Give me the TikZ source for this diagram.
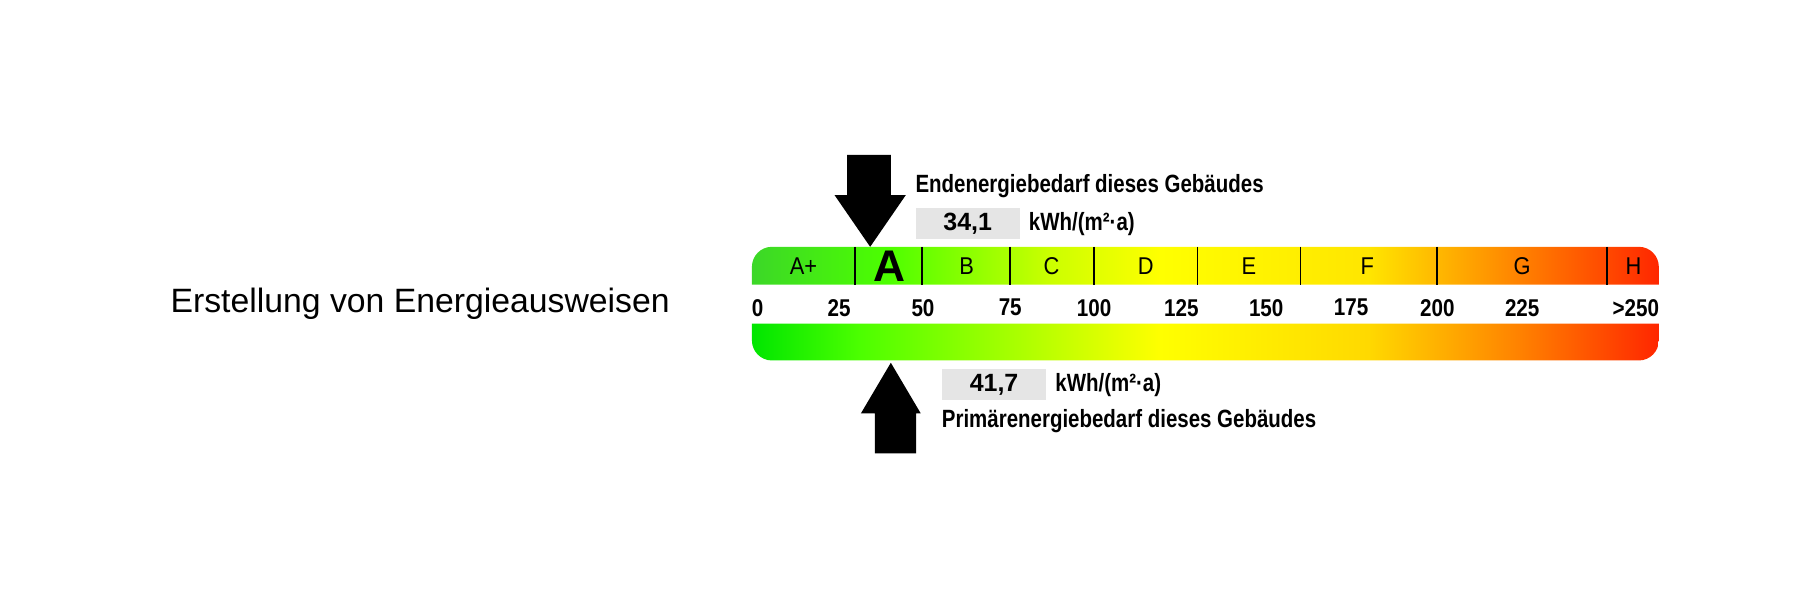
\documentclass[tikz,border=0pt]{standalone}
\usepackage{fontspec}
\setmainfont{Liberation Sans}
\usetikzlibrary{positioning}
\definecolor{topgreen}{RGB}{60,215,40}
% stops placed in 25bp..75bp, the part that covers the path
\pgfdeclarehorizontalshading{topscale}{100bp}{
  color(0bp)=(topgreen); color(25bp)=(topgreen); color(32.5bp)=(green!70!yellow);
  color(41.5bp)=(yellow!80!green); color(47.5bp)=(yellow); color(59bp)=(yellow!80!orange);
  color(67.5bp)=(orange); color(75bp)=(red!85!yellow); color(100bp)=(red!85!yellow)}
\pgfdeclarehorizontalshading{botscale}{100bp}{
  color(0bp)=(green!90!black); color(25bp)=(green!90!black); color(31bp)=(green!70!yellow);
  color(47.5bp)=(yellow); color(59bp)=(yellow!70!orange); color(67.5bp)=(orange);
  color(75bp)=(red!85!yellow); color(100bp)=(red!85!yellow)}
\tikzset{
  lbl/.style={font=\bfseries\fontsize{7.1}{8}\selectfont, inner sep=0pt, xscale=0.82, transform shape},
  cls/.style={font=\fontsize{6.9}{8}\selectfont, inner sep=0pt, xscale=0.9, transform shape},
  num/.style={font=\bfseries\fontsize{6.9}{8}\selectfont, inner sep=0pt, xscale=0.85, transform shape},
  valbox/.style={fill=black!10, minimum width=1.04cm, minimum height=0.31cm, font=\bfseries\fontsize{7.1}{8}\selectfont, inner sep=0pt},
}
\begin{document}
\begin{tikzpicture}[x=0.01148cm, y=-0.01148cm]
    % title
    \node[anchor=west, font=\fontsize{9.6}{11}\selectfont, inner sep=0pt] (title) at (148,265) {Erstellung von Energieausweisen};
    % bars
    \shade[shading=topscale] (655,248) [rounded corners=0.2cm] -- (655,215) -- (1445,215) [sharp corners] -- (1445,248) -- cycle;
    \shade[shading=botscale] (655,282) [rounded corners=0.2cm] -- (655,314) -- (1445,314) [sharp corners] -- (1445,282) -- cycle;
    \foreach \x in {745,803,880,953,1043,1133,1252,1400}
        \draw[line width=0.45pt] (\x,215) -- (\x,248);
    % classes
    \foreach \x/\c in {700/A+,842/B,916/C,998/D,1088/E,1191/F,1326/G,1423/H}
        \node[cls] (cls\c) at (\x,232) {\c};
    \node[font=\bfseries\fontsize{12.6}{14}\selectfont, inner sep=0pt] (clsA) at (775,232) {A};
    % scale numbers
    \foreach \x/\n in {660/0,731/25,804/50,880/75,953/100,1029/125,1103/150,1177/175,1252/200,1326/225,1425/>250}
        \node[num] (n\n) at (\x,268) {\n};
    % end energy
    \fill (738,135) -- (776,135) -- (776,170) -- (789,170) -- (758,215) -- (727,170) -- (738,170) -- cycle;
    \node[lbl, anchor=west] (endlbl) at (797,162) {Endenergiebedarf dieses Gebäudes};
    \node[valbox, anchor=north west] (endval) at (797,181) {34,1};
    \node[lbl, anchor=west, right=0.08cm of endval] (endunit) {kWh/(m²·a)};
    % primary energy
    \fill (762,395) -- (798,395) -- (798,360) -- (802,360) -- (776,316) -- (750,360) -- (762,360) -- cycle;
    \node[valbox, anchor=north west] (primval) at (820,321) {41,7};
    \node[lbl, anchor=west, right=0.08cm of primval] (primunit) {kWh/(m²·a)};
    \node[lbl, anchor=west] (primlbl) at (820,367) {Primärenergiebedarf dieses Gebäudes};
    \pgfresetboundingbox
    \useasboundingbox (0,0) rectangle (1568,522.7);
\end{tikzpicture}
\end{document}
